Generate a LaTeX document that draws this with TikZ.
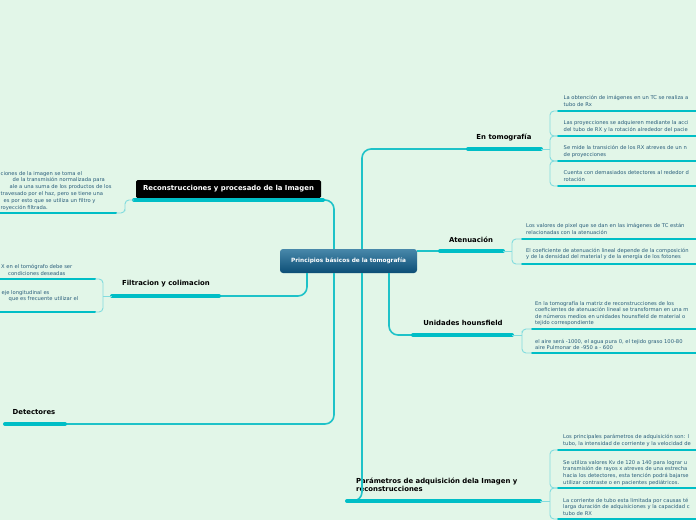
\documentclass[tikz,border=0pt]{standalone}
\usepackage{fontspec}
\setmainfont{DejaVu Sans}
\usetikzlibrary{positioning}

\definecolor{bgmint}{RGB}{226,246,232}
\definecolor{barteal}{RGB}{0,190,198}
\definecolor{linkteal}{RGB}{30,194,200}
\definecolor{braceteal}{RGB}{130,220,222}
\definecolor{leaftext}{RGB}{40,92,122}
\definecolor{roottop}{RGB}{72,136,170}
\definecolor{rootbot}{RGB}{12,78,118}

\begin{document}
\begin{tikzpicture}[x=1pt, y=-1pt,
  rootnode/.style={draw=none, rounded corners=3pt, top color=roottop, bottom color=rootbot, text=white, font=\fontsize{5.8}{7}\selectfont\bfseries, minimum width=137pt, minimum height=24pt},
  blacknode/.style={fill=black, rounded corners=1.5pt, text=white, font=\fontsize{6.9}{8}\selectfont\bfseries, minimum width=185pt, minimum height=18pt},
  topicnode/.style={font=\fontsize{6.9}{8}\selectfont\bfseries, inner sep=0pt},
  leafnode/.style={anchor=north west, align=left, inner sep=0pt, text=leaftext, font=\fontsize{5.2}{6.8}\selectfont},
  topicbar/.style={barteal, line width=4pt, line cap=round},
  leafbar/.style={barteal, line width=2pt, line cap=round},
  link/.style={linkteal, line width=1.6pt, rounded corners=9pt},
  leafbrace/.style={braceteal, line width=0.9pt, rounded corners=4pt}
]
\useasboundingbox (0,0) rectangle (696,520);
\fill[bgmint] (0,0) rectangle (696,520);
\clip (0,0) rectangle (696,520);

% Centre
\node[rootnode] (root) at (348.5,261) {Principios básicos de la tomografía};

% Main topics with their bars
\node[blacknode] (recon) at (228.5,189) {Reconstrucciones y procesado de la Imagen};
\coordinate (reconL) at (134,200);
\coordinate (reconR) at (323,200);
\node[topicnode] (filt) at (166,284) {Filtracion y colimacion};
\coordinate (filtL) at (112,296);
\coordinate (filtR) at (219,296);
\node[topicnode] (detec) at (34,412) {Detectores};
\coordinate (detecL) at (5,424);
\coordinate (detecR) at (65,424);
\node[topicnode, align=left, anchor=west] (param) at (356,485) {Parámetros de adquisición dela Imagen y\\reconstrucciones};
\coordinate (paramL) at (347,501);
\coordinate (paramR) at (540,501);
\node[topicnode] (tomo) at (504,137) {En tomografía};
\coordinate (tomoL) at (468,149);
\coordinate (tomoR) at (541,149);
\node[topicnode] (atenu) at (471,240) {Atenuación};
\coordinate (atenuL) at (440,251);
\coordinate (atenuR) at (503,251);
\node[topicnode] (houns) at (463,323) {Unidades hounsfield};
\coordinate (hounsL) at (413,335);
\coordinate (hounsR) at (512,335);

% Links from the centre
\draw[link] (reconR) -| ([xshift=-14.5pt]root.north);
\draw[link] (filtR) -| ([xshift=-41.5pt]root.south);
\draw[link] (detecR) -| ([xshift=-14.5pt]root.south);
\draw[link] (paramL) -| ([xshift=13.5pt]root.south);
\draw[link] (tomoL) -| ([xshift=13.5pt]root.north);
\draw[link] (hounsL) -| ([xshift=40.5pt]root.south);
\draw[link] (atenuL) -- (atenuL -| root.east);

\foreach \a/\b in {reconL/reconR, filtL/filtR, detecL/detecR, paramL/paramR, tomoL/tomoR, atenuL/atenuR, hounsL/hounsR}
  \draw[topicbar] (\a) -- (\b);

% Left leaves
\coordinate (reconB) at (125,207);
\coordinate (recon1R) at (116,213);
\draw[leafbrace] (recon1R) -| (reconB) |- (reconL);
\draw[leafbar] (-5,213) -- (recon1R);
\node[leafnode] (recon1) at (0.5,171) {ciones de la imagen se toma el\\\hspace*{12pt}de la transmisión normalizada para\\\hspace*{9pt}ale a una suma de los productos de los\\travesado por el haz, pero se tiene una\\\hspace*{3pt}es por esto que se utiliza un filtro y\\royección filtrada.};

\coordinate (filtB) at (103,296);
\draw[leafbrace] (filtL) -- (filtB);
\draw[leafbrace] (95,279) -| (filtB) |- (95,312);
\foreach \y in {279,312} \draw[leafbar] (-5,\y) -- (95,\y);
\node[leafnode] (filt1) at (1,264.4) {X en el tomógrafo debe ser\\\hspace*{7pt}condiciones deseadas};
\node[leafnode] (filt2) at (1.5,290) {eje longitudinal es\\\hspace*{7pt}que es frecuente utilizar el};

% Right leaves: En tomografia
\coordinate (tomoB) at (550,149);
\draw[leafbrace] (tomoR) -- (tomoB);
\foreach \a/\b in {111/136,136/161,161/186}
  \draw[leafbrace] (558,\a) -| (550,{(\a+\b)/2}) |- (558,\b);
\foreach \y in {111,136,161,186} \draw[leafbar] (558,\y) -- (705,\y);
\node[leafnode] (tomo1) at (563.5,95.2) {La obtención de imágenes en un TC se realiza a\\tubo de Rx};
\node[leafnode] (tomo2) at (563.5,120.4) {Las proyecciones se adquieren mediante la acci\\del tubo de RX y la rotación alrededor del pacie};
\node[leafnode] (tomo3) at (563.5,145.4) {Se mide la transición de los RX atreves de un n\\de proyecciones};
\node[leafnode] (tomo4) at (563.5,170.4) {Cuenta con demasiados detectores al rededor d\\rotación};

% Atenuacion
\coordinate (atenuB) at (512,251);
\draw[leafbrace] (atenuR) -- (atenuB);
\draw[leafbrace] (522,239) -| (atenuB) |- (522,264);
\foreach \y in {239,264} \draw[leafbar] (522,\y) -- (705,\y);
\node[leafnode] (atenu1) at (526,223.5) {Los valores de pixel que se dan en las imágenes de TC están\\relacionadas con la atenuación};
\node[leafnode] (atenu2) at (526,247.7) {El coeficiente de atenuación lineal depende de la composición\\y de la densidad del material y de la energía de los fotones};

% Unidades hounsfield
\coordinate (hounsB) at (522,335);
\draw[leafbrace] (hounsR) -- (hounsB);
\draw[leafbrace] (532,329) -| (hounsB) |- (532,353);
\foreach \y in {329,353} \draw[leafbar] (532,\y) -- (705,\y);
\node[leafnode, font=\fontsize{5.2}{6.5}\selectfont] (houns1) at (535,301) {En la tomografía la matriz de reconstrucciones de los\\coeficientes de atenuación lineal se transforman en una m\\de números medios en unidades hounsfield de material o\\tejido correspondiente};
\node[leafnode] (houns2) at (535,338.7) {el aire será -1000, el agua pura 0, el tejido graso 100-80\\aire Pulmonar de -950 a - 600};

% Parametros de adquisicion
\coordinate (paramB) at (550,501);
\draw[leafbrace] (paramR) -- (paramB);
\foreach \a/\b in {450/488,488/519}
  \draw[leafbrace] (558,\a) -| (550,{(\a+\b)/2}) |- (558,\b);
\foreach \y in {450,488,519} \draw[leafbar] (558,\y) -- (705,\y);
\node[leafnode] (param1) at (563,434.4) {Los principales parámetros de adquisición son: l\\tubo, la intensidad de corriente y la velocidad de};
\node[leafnode] (param2) at (563,460) {Se utiliza valores Kv de 120 a 140 para lograr u\\transmisión de rayos x atreves de una estrecha\\hacia los detectores, esta tención podrá bajarse\\utilizar contraste o en pacientes pediátricos.};
\node[leafnode] (param3) at (563,497.7) {La corriente de tubo esta limitada por causas té\\larga duración de adquisiciones y la capacidad c\\tubo de RX};

\end{tikzpicture}
\end{document}
